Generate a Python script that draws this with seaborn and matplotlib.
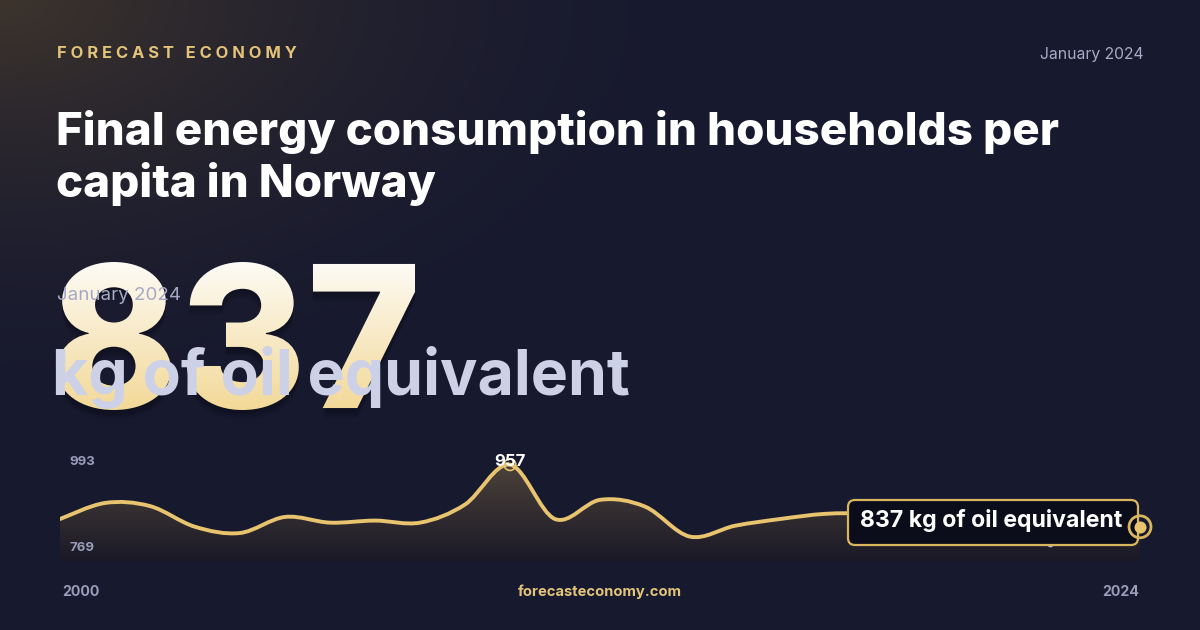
import numpy as np
import matplotlib
matplotlib.use("Agg")
import matplotlib.pyplot as plt
from matplotlib.path import Path
from matplotlib.patches import PathPatch, FancyBboxPatch
from matplotlib.textpath import TextPath
from matplotlib.font_manager import FontProperties
from matplotlib.transforms import Affine2D
import seaborn as sns

# data
years = list(range(2000, 2025))
values = [852, 883, 877, 837, 825, 856, 845, 849, 845, 880, 957, 852, 889, 876,
          818, 839, 852, 862, 863, 860, 850, 835, 805, 820, 837]
y_domain = (769, 993)
brand = "FORECAST ECONOMY"
period = "January 2024"
title = "Final energy consumption in households per\ncapita in Norway"
unit = "kg of oil equivalent"
site = "forecasteconomy.com"

GOLD = "#e8c46f"
BG = "#181a30"
FONT = ["Inter", "DejaVu Sans"]

sns.set_theme(style="dark")
plt.rcParams["font.family"] = FONT

W, H = 1200, 630
fig = plt.figure(figsize=(W / 100, H / 100), dpi=100)

# background in pixel coords
bg = fig.add_axes([0, 0, 1, 1])
bg.set_xlim(0, W)
bg.set_ylim(H, 0)
bg.axis("off")
yy, xx = np.mgrid[0:H, 0:W]
d = np.sqrt((xx / 750.0) ** 2 + (yy / 430.0) ** 2)
glow = np.clip(1 - d, 0, 1) ** 1.8
base = np.array([0x17, 0x19, 0x2f]) / 255
warm = np.array([0x3d, 0x34, 0x2c]) / 255
img = base[None, None, :] * (1 - glow[..., None]) + warm[None, None, :] * glow[..., None]
bg.imshow(img, extent=(0, W, H, 0), aspect="auto", zorder=0)

# header
spaced = "   ".join(" ".join(w) for w in brand.split())
bg.text(57, 53, spaced, color="#e3c47a", fontsize=11.9, fontweight="bold",
        va="center", ha="left", zorder=5)
bg.text(1143, 54, period, color="#a9abc6", fontsize=11.3, va="center", ha="right", zorder=5)
bg.text(56, 197, title, color="white", fontsize=32.9, fontweight="heavy",
        va="baseline", ha="left", linespacing=1.23, zorder=5)

# big number with vertical gradient
fp = FontProperties(family=FONT, weight="heavy")
tp = TextPath((0, 0), f"{values[-1]}", size=100, prop=fp)
ext = tp.get_extents()
x0b, x1b, y0b, y1b = 57, 415, 262, 410
sy = (y1b - y0b) / ext.height
sx = (x1b - x0b) / ext.width
tr = Affine2D().translate(-ext.x0, -ext.y0).scale(sx, -sy).translate(x0b, y1b)
num_path = tr.transform_path(tp)
for k in range(1, 6):
    bg.add_patch(PathPatch(Affine2D().translate(0, 2.0 * k).transform_path(num_path),
                           facecolor="#07080f", edgecolor="none", alpha=0.09, zorder=1.5))
clip = PathPatch(num_path, facecolor="none", edgecolor="none", transform=bg.transData)
bg.add_patch(clip)
grad = np.linspace(0, 1, 256)[:, None]
c_top = np.array([0xfd, 0xfb, 0xf5]) / 255
c_bot = np.array([0xf3, 0xd9, 0x98]) / 255
gimg = c_top[None, None, :] * (1 - grad[..., None]) + c_bot[None, None, :] * grad[..., None]
gim = bg.imshow(np.repeat(gimg, 2, axis=1), extent=(x0b, x1b, y1b, y0b),
                aspect="auto", zorder=2)
gim.set_clip_path(clip)

bg.text(57, 295, period, color="#a6a9c6", fontsize=13.5, va="center", ha="left", zorder=4)
bg.text(52, 395, unit, color="#cdd1e8", fontsize=45, fontweight="bold",
        va="baseline", ha="left", zorder=4)

# chart
ax = fig.add_axes([60 / W, 1 - 562 / H, 1080 / W, 116 / H])
ax.set_xlim(years[0], years[-1])
ax.set_ylim(*y_domain)
ax.axis("off")
ax.patch.set_alpha(0)

xs = np.array(years, dtype=float)
vs = np.array(values, dtype=float)
n = len(xs)
verts = [(xs[0], vs[0])]
codes = [Path.MOVETO]
for i in range(n - 1):
    p_prev = (xs[max(i - 1, 0)], vs[max(i - 1, 0)])
    p0 = (xs[i], vs[i])
    p1 = (xs[i + 1], vs[i + 1])
    p_next = (xs[min(i + 2, n - 1)], vs[min(i + 2, n - 1)])
    c1 = (p0[0] + (p1[0] - p_prev[0]) / 6, p0[1] + (p1[1] - p_prev[1]) / 6)
    c2 = (p1[0] - (p_next[0] - p0[0]) / 6, p1[1] - (p_next[1] - p0[1]) / 6)
    verts += [c1, c2, p1]
    codes += [Path.CURVE4] * 3
line_path = Path(verts, codes)
fill_path = Path(verts + [(xs[-1], y_domain[0]), (xs[0], y_domain[0]), (xs[0], vs[0])],
                 codes + [Path.LINETO, Path.LINETO, Path.CLOSEPOLY])

fill_clip = PathPatch(fill_path, facecolor="none", edgecolor="none", transform=ax.transData)
ax.add_patch(fill_clip)
fg = np.linspace(0, 1, 256)[:, None]
top_c = np.array([0x4c, 0x42, 0x3a]) / 255
bot_c = np.array([0x19, 0x18, 0x26]) / 255
fimg = top_c[None, None, :] * (1 - fg[..., None]) + bot_c[None, None, :] * fg[..., None]
fim = ax.imshow(np.repeat(fimg, 2, axis=1), extent=(xs[0], xs[-1], y_domain[0], max(values)),
                aspect="auto", zorder=1)
fim.set_clip_path(fill_clip)
ax.add_patch(PathPatch(line_path, facecolor="none", edgecolor=GOLD, lw=2.8,
                       capstyle="round", zorder=3))

imax = int(np.argmax(values))
imin = int(np.argmin(values))
sns.scatterplot(x=[years[imax]], y=[values[imax]], ax=ax, s=70, facecolor="none",
                edgecolor=GOLD, linewidth=1.2, zorder=4, legend=False)
ax.annotate(f"{values[imax]}", (years[imax], values[imax]), xytext=(0, 2.5),
            textcoords="offset points", ha="center", va="center", color="white",
            fontsize=12, fontweight="bold", zorder=6, annotation_clip=False)
sns.scatterplot(x=[years[imin]], y=[values[imin]], ax=ax, s=30, color="#b4b8d4",
                linewidth=0, zorder=4, legend=False)

ax.text(0.009, 0.86, f"{y_domain[1]}", transform=ax.transAxes, color="#9a9db9",
        fontsize=9.5, fontweight="bold", va="center", ha="left", zorder=5)
ax.text(0.009, 0.12, f"{y_domain[0]}", transform=ax.transAxes, color="#9a9db9",
        fontsize=9.5, fontweight="bold", va="center", ha="left", zorder=5)

# tooltip for last value (pixel coords, drawn on top of the chart)
tip = FancyBboxPatch((848, 500), 290, 45, boxstyle="round,pad=0,rounding_size=7",
                     facecolor="#0b0d1a", edgecolor="#d9b65e", lw=1.6, zorder=6,
                     transform=bg.transData, clip_on=False)
ax.add_patch(tip)
ax.text(860, 521, f"{values[-1]} {unit}", transform=bg.transData, color="white",
        fontsize=16.6, fontweight="bold", va="center", ha="left", zorder=7, clip_on=False)
ax.scatter([years[-1]], [values[-1]], s=250, facecolor="none", edgecolor="#d9b65e",
           linewidth=2, zorder=8, clip_on=False)
ax.scatter([years[-1]], [values[-1]], s=75, color=GOLD, linewidth=0, zorder=9, clip_on=False)

# footer
bg.text(62, 592, f"{years[0]}", color="#9a9db9", fontsize=10.2, fontweight="bold",
        va="center", ha="left", zorder=5)
bg.text(1139, 592, f"{years[-1]}", color="#9a9db9", fontsize=10.2, fontweight="bold",
        va="center", ha="right", zorder=5)
bg.text(600, 592, site, color="#e3c47a", fontsize=10.6, fontweight="bold",
        va="center", ha="center", zorder=5)

fig.savefig("out.png", dpi=100, facecolor=BG)
